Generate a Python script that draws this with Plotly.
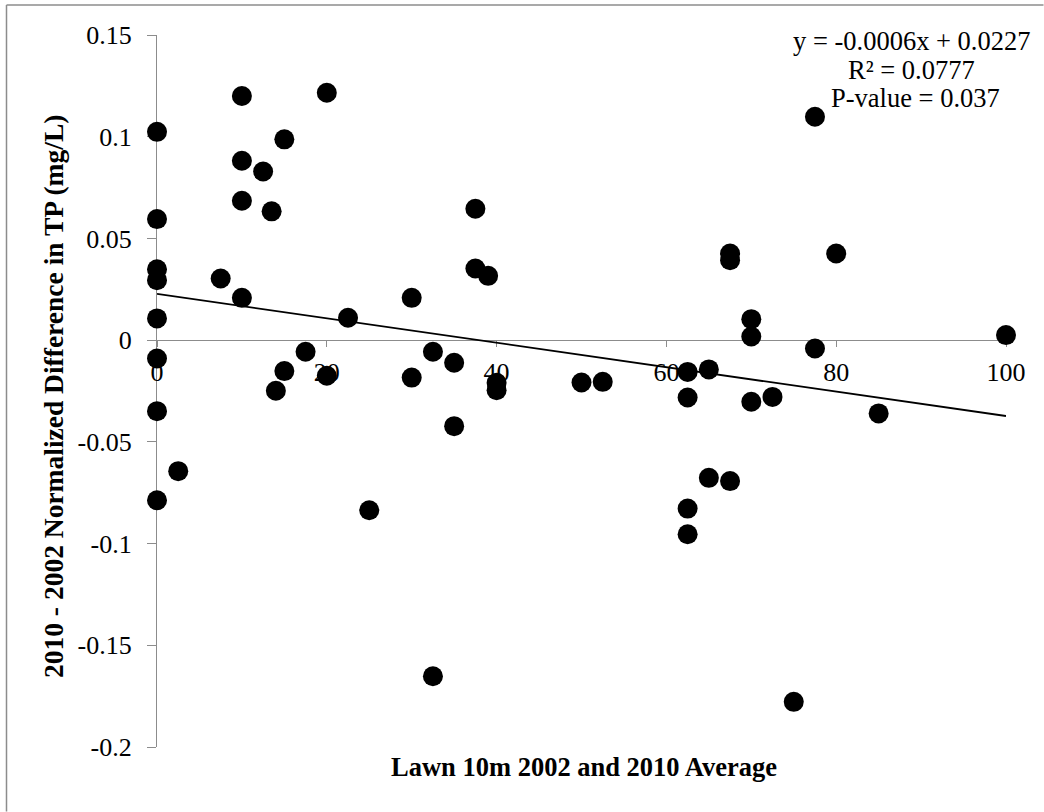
import plotly.graph_objects as go

# Lawn cover within 10 m (2002/2010 average, %) and normalized TP change (mg/L)
lawn_pct = [0, 0, 0, 0, 0, 0, 0, 0,
            2.5, 7.5,
            10, 10, 10, 10,
            12.5, 13.5, 14,
            15, 15, 17.5,
            20, 20, 22.5, 25,
            30, 30, 32.5, 32.5,
            35, 35, 37.5, 37.5, 39,
            40, 40, 50, 52.5,
            62.5, 62.5, 62.5, 62.5,
            65, 65, 67.5, 67.5, 67.5,
            70, 70, 70, 72.5, 75,
            77.5, 77.5, 80, 85, 100]
tp_diff = [0.1024, 0.0595, 0.0348, 0.0295, 0.0107, -0.0090, -0.0349, -0.0787,
           -0.0644, 0.0303,
           0.1200, 0.0882, 0.0685, 0.0208,
           0.0829, 0.0633, -0.0249,
           0.0987, -0.0152, -0.0057,
           0.1216, -0.0175, 0.0110, -0.0836,
           0.0208, -0.0184, -0.0057, -0.1652,
           -0.0111, -0.0423, 0.0646, 0.0352, 0.0316,
           -0.0210, -0.0246, -0.0208, -0.0205,
           -0.0156, -0.0282, -0.0828, -0.0954,
           -0.0144, -0.0677, 0.0426, 0.0393, -0.0693,
           0.0103, 0.0018, -0.0303, -0.0279, -0.1778,
           0.1098, -0.0041, 0.0426, -0.0360, 0.0025]

# Linear trend as reported in the equation label
slope = -0.0006
intercept = 0.0227
r_squared = 0.0777
p_value = 0.037
trend_x = [0, 100]
trend_y = [intercept + slope * v for v in trend_x]

x_ticks = [0, 20, 40, 60, 80, 100]
x_ticktext = ["0", "20", "40", "60", "80", "100"]
y_ticks = [0.15, 0.1, 0.05, 0, -0.05, -0.1, -0.15, -0.2]
y_ticktext = ["0.15", "0.1", "0.05", "0", "-0.05", "-0.1", "-0.15", "-0.2"]

x_title = "Lawn 10m 2002 and 2010 Average"
y_title = "2010 - 2002 Normalized Difference in TP (mg/L)"

FONT = "Liberation Serif, Times New Roman, serif"
AXIS_GREY = "#8c8c8c"

W, H = 1044, 812
ML, MR, MT, MB = 157, 38, 35, 65
PW, PH = W - ML - MR, H - MT - MB

Y_MIN, Y_MAX = -0.2, 0.15


def px_to_paper_x(px):
    return (px - ML) / PW


def px_to_paper_y(py):
    return (H - MB - py) / PH


fig = go.Figure()

fig.add_trace(go.Scatter(
    x=trend_x, y=trend_y, mode="lines",
    line=dict(color="black", width=1.8),
    hoverinfo="skip", showlegend=False,
))

fig.add_trace(go.Scatter(
    x=lawn_pct, y=tp_diff, mode="markers",
    marker=dict(color="black", size=20, line=dict(width=0)),
    cliponaxis=False, showlegend=False,
))

eps = 1e-9
fig.update_xaxes(
    range=[0 - eps, 100 + eps],
    anchor="free",
    position=(0 - Y_MIN) / (Y_MAX - Y_MIN),
    tickmode="array", tickvals=x_ticks, ticktext=x_ticktext,
    ticks="outside", ticklen=6, tickwidth=1.3, tickcolor=AXIS_GREY,
    showline=True, linecolor=AXIS_GREY, linewidth=1.3,
    showgrid=False, zeroline=False,
    tickfont=dict(family=FONT, size=26, color="black"),
    ticklabelstandoff=3,
    layer="below traces",
)
fig.update_yaxes(
    range=[Y_MIN - eps, Y_MAX + eps],
    tickmode="array", tickvals=y_ticks, ticktext=y_ticktext,
    ticks="outside", ticklen=9, tickwidth=1.3, tickcolor=AXIS_GREY,
    showline=True, linecolor=AXIS_GREY, linewidth=1.3,
    showgrid=False, zeroline=False,
    tickfont=dict(family=FONT, size=26, color="black"),
    ticklabelstandoff=10,
    layer="below traces",
)

annotations = [
    dict(text=f"y = {slope}x + {intercept}", x=px_to_paper_x(911), y=px_to_paper_y(41)),
    dict(text=f"R² = {r_squared}", x=px_to_paper_x(911), y=px_to_paper_y(70)),
    dict(text=f"P-value = {p_value}", x=px_to_paper_x(915), y=px_to_paper_y(98)),
]
for a in annotations:
    fig.add_annotation(
        text=a["text"], x=a["x"], y=a["y"], xref="paper", yref="paper",
        xanchor="center", yanchor="middle", showarrow=False,
        font=dict(family=FONT, size=26.5, color="black"),
    )

fig.add_annotation(
    text=f"<b>{x_title}</b>", x=px_to_paper_x(584), y=px_to_paper_y(767),
    xref="paper", yref="paper", xanchor="center", yanchor="middle",
    showarrow=False, font=dict(family=FONT, size=26.5, color="black"),
)
fig.add_annotation(
    text=f"<b>{y_title}</b>", x=px_to_paper_x(53), y=px_to_paper_y(397),
    xref="paper", yref="paper", xanchor="center", yanchor="middle",
    textangle=-90, showarrow=False,
    font=dict(family=FONT, size=27.5, color="black"),
)

# Chart-area frame (left and top edges fall inside the page)
frame = dict(type="line", xref="paper", yref="paper", layer="above",
             line=dict(color=AXIS_GREY, width=1.5))
fig.add_shape(**frame, x0=px_to_paper_x(6.5), x1=px_to_paper_x(6.5),
              y0=px_to_paper_y(5), y1=px_to_paper_y(H - 0.5))
fig.add_shape(**frame, x0=px_to_paper_x(6.5), x1=px_to_paper_x(W - 0.5),
              y0=px_to_paper_y(5), y1=px_to_paper_y(5))

fig.update_layout(
    width=W, height=H,
    margin=dict(l=ML, r=MR, t=MT, b=MB, pad=0),
    paper_bgcolor="white", plot_bgcolor="white",
    font=dict(family=FONT, color="black"),
    showlegend=False,
)

fig.write_html("out.html")
